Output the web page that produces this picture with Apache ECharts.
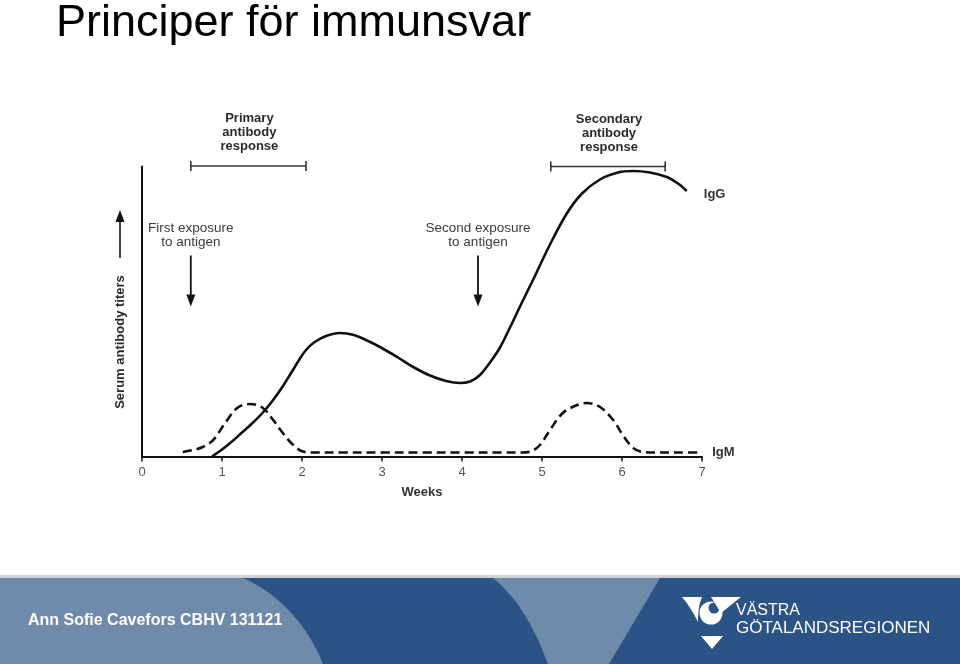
<!DOCTYPE html>
<html><head><meta charset="utf-8">
<script src="https://cdn.jsdelivr.net/npm/echarts@6/dist/echarts.min.js"></script>
<style>html,body{margin:0;padding:0;background:#fff}#c{width:960px;height:664px}</style>
</head><body><div id="c"></div>
<script>
// ---- data ----
const titleText = 'Principer för immunsvar';
const weekTicks = [0, 1, 2, 3, 4, 5, 6, 7];
const xName = 'Weeks';
const yName = 'Serum antibody titers';
const igGName = 'IgG';
const igMName = 'IgM';
// IgG curve (week, titer)
const igG = [
  [0.875, 0], [1.0, 7], [1.125, 15], [1.25, 24], [1.375, 33], [1.5, 43], [1.625, 55],
  [1.75, 69], [1.875, 85], [1.975, 98], [2.05, 106.5], [2.15, 114], [2.3, 120.5],
  [2.475, 123.5], [2.65, 121.5], [2.8, 116.5], [2.975, 109.5], [3.2, 99], [3.39, 89.5],
  [3.6, 81], [3.8, 75.5], [3.975, 73.5], [4.1, 75], [4.225, 81.5], [4.35, 94],
  [4.475, 109], [4.6, 129], [4.725, 150], [4.89, 177], [5.1, 212], [5.31, 243],
  [5.5, 263], [5.725, 277], [5.95, 284], [6.14, 285.5], [6.35, 284], [6.56, 279.5],
  [6.7, 273], [6.81, 265.5]
];
// IgM curve (week, titer)
const igM = [
  [0.51, 4.5], [0.64, 6.5], [0.76, 9.5], [0.89, 16.5], [1.04, 33.5], [1.19, 48.5],
  [1.35, 52.5], [1.51, 48.5], [1.64, 36.5], [1.76, 23.5], [1.89, 11.5], [2.01, 5],
  [2.15, 4], [2.5, 4], [3, 4], [3.5, 4], [4, 4], [4.5, 4], [4.75, 4], [4.87, 5.5],
  [4.975, 11.5], [5.1, 26.5], [5.26, 43.5], [5.44, 51.5], [5.56, 53.5], [5.725, 49.5],
  [5.89, 36.5], [6.01, 21.5], [6.14, 8.5], [6.26, 4.5], [6.4, 4], [6.7, 4], [6.99, 4]
];
const responseLabels = [['Primary', 'antibody', 'response'], ['Secondary', 'antibody', 'response']];
const responseSpans = [[0.61, 2.05], [5.11, 6.54]];
const exposureLabels = [['First exposure', 'to antigen'], ['Second exposure', 'to antigen']];
const exposureWeeks = [0.61, 4.2];
const footerText = 'Ann Sofie Cavefors CBHV 131121';
const logoLines = ['VÄSTRA', 'GÖTALANDSREGIONEN'];

// ---- chart ----
const FONT = '"Liberation Sans", Arial, sans-serif';
const chart = echarts.init(document.getElementById('c'), null, {renderer: 'canvas'});
const option = {
  backgroundColor: '#ffffff',
  animation: false,
  title: {
    text: titleText, left: 51, top: -4,
    textStyle: {fontSize: 45, fontWeight: 'normal', color: '#000', fontFamily: FONT}
  },
  grid: {left: 142, right: 258, top: 166.5, bottom: 207.5, containLabel: false},
  xAxis: {
    type: 'value', min: weekTicks[0], max: weekTicks[weekTicks.length - 1], interval: 1,
    name: xName, nameLocation: 'middle', nameGap: 29,
    nameTextStyle: {fontSize: 13, fontWeight: 'bold', color: '#333', fontFamily: FONT},
    axisLine: {show: true, onZero: true, lineStyle: {color: '#111', width: 2}},
    axisTick: {show: true, length: 5, lineStyle: {color: '#111', width: 1.5}},
    axisLabel: {fontSize: 13, color: '#555', margin: 9, fontFamily: FONT},
    splitLine: {show: false}
  },
  yAxis: {
    type: 'value', min: 0, max: 290,
    axisLine: {show: true, lineStyle: {color: '#111', width: 2}},
    axisTick: {show: false}, axisLabel: {show: false}, splitLine: {show: false}
  },
  series: [
    {
      type: 'line', name: igGName, data: igG, smooth: 0.35, symbol: 'none',
      lineStyle: {color: '#111', width: 2.6},
      endLabel: {show: true, formatter: igGName, distance: 17, offset: [0, 3],
        fontSize: 13, fontWeight: 'bold', color: '#333', fontFamily: FONT}
    },
    {
      type: 'line', name: igMName, data: igM, smooth: 0.35, symbol: 'none',
      lineStyle: {color: '#111', width: 2.6, type: [9, 5]},
      endLabel: {show: true, formatter: igMName, distance: 11, offset: [0, 0],
        fontSize: 13, fontWeight: 'bold', color: '#333', fontFamily: FONT}
    }
  ]
};
chart.setOption(option);

function px(x, y) { return chart.convertToPixel({gridIndex: 0}, [x, y]); }
function bez(p0, p1, p2, p3, n) {
  const pts = [];
  for (let i = 0; i <= n; i++) {
    const t = i / n, u = 1 - t;
    pts.push([u*u*u*p0[0] + 3*u*u*t*p1[0] + 3*u*t*t*p2[0] + t*t*t*p3[0],
              u*u*u*p0[1] + 3*u*u*t*p1[1] + 3*u*t*t*p2[1] + t*t*t*p3[1]]);
  }
  return pts;
}
const g = [];
const ink = '#333';
// response brackets + labels
const bracketAt = [290.5, 290];
const labelTops = [338.5, 337.5];
responseSpans.forEach((s, i) => {
  const a = px(s[0], bracketAt[i]), b = px(s[1], bracketAt[i]);
  g.push({type: 'line', shape: {x1: a[0], y1: a[1], x2: b[0], y2: b[1]}, style: {stroke: ink, lineWidth: 1.6}});
  g.push({type: 'line', shape: {x1: a[0], y1: a[1] - 5, x2: a[0], y2: a[1] + 5}, style: {stroke: ink, lineWidth: 1.6}});
  g.push({type: 'line', shape: {x1: b[0], y1: b[1] - 5, x2: b[0], y2: b[1] + 5}, style: {stroke: ink, lineWidth: 1.6}});
  const c = px((s[0] + s[1]) / 2, labelTops[i]);
  responseLabels[i].forEach((t, j) => {
    g.push({type: 'text', x: c[0] + 1, y: c[1] + j * 14.2,
      style: {text: t, fill: '#2a2a2a', font: 'bold 13px ' + FONT, textAlign: 'center', textVerticalAlign: 'middle'}});
  });
});
// exposure arrows + labels
exposureWeeks.forEach((w, i) => {
  const top = px(w, 201), tip = px(w, 150);
  g.push({type: 'line', shape: {x1: top[0], y1: top[1], x2: tip[0], y2: tip[1] - 10}, style: {stroke: '#111', lineWidth: 1.8}});
  g.push({type: 'polygon', shape: {points: [[tip[0] - 4.5, tip[1] - 12], [tip[0] + 4.5, tip[1] - 12], [tip[0], tip[1]]]}, style: {fill: '#111'}});
  const c = px(w, 228.5);
  exposureLabels[i].forEach((t, j) => {
    g.push({type: 'text', x: c[0], y: c[1] + j * 14,
      style: {text: t, fill: '#3a3a3a', font: '13.5px ' + FONT, textAlign: 'center', textVerticalAlign: 'middle'}});
  });
});
// y-axis title with upward arrow
g.push({type: 'text', x: 120, y: 342, rotation: Math.PI / 2,
  style: {text: yName, fill: '#2a2a2a', font: 'bold 13px ' + FONT, textAlign: 'center', textVerticalAlign: 'middle'}});
g.push({type: 'line', shape: {x1: 120, y1: 258, x2: 120, y2: 220}, style: {stroke: '#111', lineWidth: 1.6}});
g.push({type: 'polygon', shape: {points: [[115.5, 222], [124.5, 222], [120, 210]]}, style: {fill: '#111'}});

// footer band
const dark = '#2c5386', light = '#6f8aab';
g.push({type: 'rect', shape: {x: 0, y: 575, width: 960, height: 3}, style: {fill: '#cfd3d8'}});
g.push({type: 'rect', shape: {x: 0, y: 578, width: 960, height: 86}, style: {fill: dark}});
const leftShape = [[0, 578]].concat(bez([243, 578], [275, 592], [305, 620], [323, 664], 24)).concat([[0, 664]]);
g.push({type: 'polygon', shape: {points: leftShape}, style: {fill: light}});
const wedge = [[493, 578], [660, 578], [609, 664]].concat(bez([548, 664], [535, 630], [520, 600], [493, 578], 20));
g.push({type: 'polygon', shape: {points: wedge}, style: {fill: light}});
g.push({type: 'text', x: 28, y: 621,
  style: {text: footerText, fill: '#fff', font: 'bold 16px ' + FONT, textVerticalAlign: 'middle'}});
// logo
const lw = [[682, 597], [702, 597]].concat(bez([702, 597], [699, 604], [698, 612], [698, 622], 10))
  .concat(bez([698, 622], [693, 612], [688, 604], [682, 597], 10));
g.push({type: 'polygon', shape: {points: lw}, style: {fill: '#fff'}});
g.push({type: 'circle', shape: {cx: 711, cy: 613, r: 11.5}, style: {fill: '#fff'}});
g.push({type: 'circle', shape: {cx: 714, cy: 608, r: 5.5}, style: {fill: dark}});
g.push({type: 'polygon', shape: {points: [[711, 597], [741, 597], [721, 613]]}, style: {fill: '#fff'}});
g.push({type: 'polygon', shape: {points: [[701, 636], [723, 636], [712, 649]]}, style: {fill: '#fff'}});
g.push({type: 'text', x: 736, y: 611, style: {text: logoLines[0], fill: '#fff', font: '16px ' + FONT, textVerticalAlign: 'middle'}});
g.push({type: 'text', x: 736, y: 628, style: {text: logoLines[1], fill: '#fff', font: '17px ' + FONT, textVerticalAlign: 'middle'}});

chart.setOption({graphic: {elements: g}});
</script>
</body></html>
